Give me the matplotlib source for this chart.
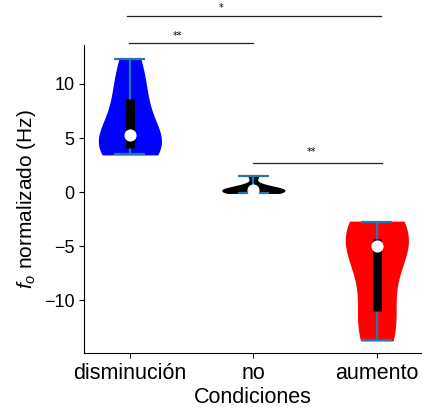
import matplotlib
matplotlib.use("Agg")
import matplotlib.pyplot as plt
import numpy as np

plt.rcParams['font.family'] = ['Liberation Sans', 'DejaVu Sans']
plt.rcParams['mathtext.fontset'] = 'custom'
plt.rcParams['mathtext.rm'] = 'Liberation Sans'
plt.rcParams['mathtext.it'] = 'Liberation Sans:italic'

conditions = ["disminución", "no", "aumento"]
disminucion = [3.5, 3.8, 4.1, 4.6, 5.3, 6.9, 8.6, 10.2, 12.3]
sin_cambio = [-0.06, 0.0, 0.05, 0.1, 0.2, 0.25, 0.3, 0.6, 1.5]
aumento = [-13.7, -12.8, -11.0, -7.8, -4.94, -4.6, -4.35, -3.1, -2.75]
colors = ["#0000ff", "#000000", "#ff0000"]

# significance brackets: (x0, x1, y, text_x, text_y, label)
brackets = [
    (0.973, 3.032, 16.3, 1.742, 17.0, "*"),
    (0.992, 1.996, 13.82, 1.389, 14.4, "**"),
    (1.994, 3.038, 2.66, 2.471, 3.7, "**"),
]

data = [disminucion, sin_cambio, aumento]
pos = [1, 2, 3]

fig = plt.figure(figsize=(4.22, 4.17), dpi=100)
ax = fig.add_axes([0.199, 0.153, 0.801, 0.739])

parts = ax.violinplot(data, positions=pos, widths=0.5, showextrema=True)
for body, c in zip(parts['bodies'], colors):
    body.set_facecolor(c)
    body.set_edgecolor(c)
    body.set_alpha(1)
for k in ['cbars', 'cmins', 'cmaxes']:
    parts[k].set_color('#1f77b4')
    parts[k].set_linewidth(1.6)

for p, d in zip(pos, data):
    q1, med, q3 = np.percentile(d, [25, 50, 75])
    ax.vlines(p, q1, q3, color='k', lw=6.5, zorder=3)
    ax.scatter([p], [med], s=60, color='white', zorder=4)

for x0, x1, y, tx, ty, lab in brackets:
    ax.plot([x0, x1], [y, y], color='#222222', lw=0.9, clip_on=False)
    ax.text(tx, ty, lab, fontsize=7, ha='center', va='center',
            family='DejaVu Sans')

ax.set_xlim(0.628, 3.366)
ax.set_ylim(-14.9, 13.6)
ax.set_xticks(pos)
ax.set_xticklabels(conditions, fontsize=15.5)
ax.set_yticks([-10, -5, 0, 5, 10])
ax.tick_params(axis='y', labelsize=13)
ax.set_xlabel("Condiciones", fontsize=15.5, labelpad=2)
ax.set_ylabel(r"$f_o$ normalizado (Hz)", fontsize=15)
ax.spines['top'].set_visible(False)
ax.spines['right'].set_visible(False)

fig.savefig("out.png", dpi=100)
